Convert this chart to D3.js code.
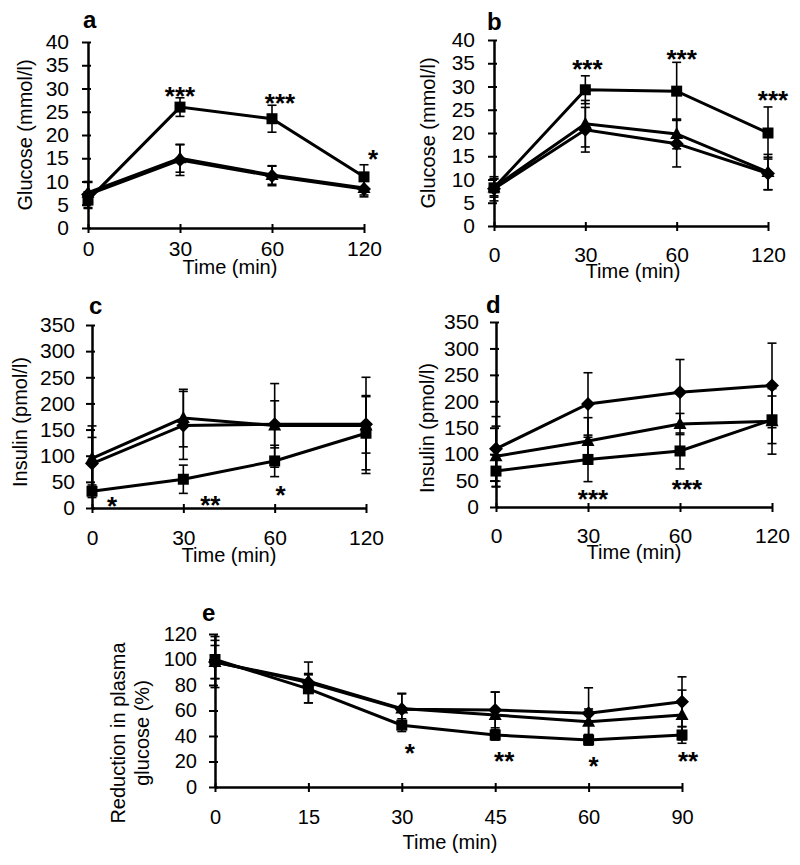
<!DOCTYPE html>
<html><head><meta charset="utf-8">
<script src="https://cdn.jsdelivr.net/npm/d3@7/dist/d3.min.js"></script>
<style>
html,body{margin:0;padding:0;background:#fff;}
svg{display:block;font-family:"Liberation Sans",Arial,Helvetica,sans-serif;}
</style>
</head><body>
<svg id="chart" width="800" height="865"></svg>
<script>
// ---------- DATA ----------
const timesOGTT = ["0","30","60","120"];
const timesITT  = ["0","15","30","45","60","90"];

const ticksGlucose = [0,5,10,15,20,25,30,35,40];
const ticksInsulin = [0,50,100,150,200,250,300,350];
const ticksReduction = [0,20,40,60,80,100,120];

// Panel a: glucose
const aDiamond    = [7.2, 14.6, 11.2, 8.4];
const aDiamondErr = [2.8, 3.3, 2.1, 1.7];
const aTriangle    = [7.6, 15.0, 11.4, 8.6];
const aTriangleErr = [2.2, 3.0, 2.0, 1.5];
const aSquare    = [6.0, 26.0, 23.5, 11.0];
const aSquareErr = [1.8, 2.0, 2.9, 2.6];
const aStars = [{t:"30", v:29.7, label:"***"}, {t:"60", v:28.2, label:"***"}, {t:"120", v:16.1, label:"*"}];

// Panel b: glucose
const bDiamond    = [8.0, 20.7, 17.7, 11.3];
const bDiamondErr = [2.6, 4.8, 5.0, 3.5];
const bTriangle    = [8.3, 22.0, 19.8, 11.6];
const bTriangleErr = [1.8, 5.0, 3.2, 3.8];
const bSquare    = [8.2, 29.3, 29.0, 20.0];
const bSquareErr = [2.0, 3.0, 6.2, 5.6];
const bStars = [{t:"30", v:35.1, label:"***"}, {t:"60", v:37.2, label:"***"}, {t:"120", v:28.4, label:"***"}];

// Panel c: insulin
const cDiamond    = [85, 158, 160, 160];
const cDiamondErr = [50, 65, 45, 55];
const cTriangle    = [95, 172, 158, 158];
const cTriangleErr = [62, 55, 80, 92];
const cSquare    = [32, 55, 90, 143];
const cSquareErr = [12, 27, 30, 70];
const cStars = [{t:"0", v:15.3, label:"*"}, {t:"30", v:17.2, label:"**"}, {t:"60", v:36.3, label:"*"}];

// Panel d: insulin
const dDiamond    = [110, 195, 217, 230];
const dDiamondErr = [61, 59, 62, 80];
const dTriangle    = [96, 125, 157, 162];
const dTriangleErr = [57, 44, 20, 62];
const dSquare    = [68, 90, 106, 165];
const dSquareErr = [30, 42, 34, 45];
const dStars = [{t:"30", v:26.5, label:"***"}, {t:"60", v:45.4, label:"***"}];

// Panel e: reduction in plasma glucose
const eDiamond    = [98, 82, 61, 60.4, 57.8, 66.9];
const eDiamondErr = [13, 16, 12, 14, 20, 19.5];
const eTriangle    = [98, 83, 61.5, 56.5, 51.2, 56.5];
const eTriangleErr = [20, 6, 12, 18, 10, 19.5];
const eSquare    = [100, 77, 48.5, 40.8, 36.9, 40.8];
const eSquareErr = [15, 11, 5, 4, 4, 6.5];
const eStars = [{t:"30", v:31.4, label:"*"}, {t:"45", v:25.1, label:"**"}, {t:"60", v:21.2, label:"*"}, {t:"90", v:25.1, label:"**"}];

// ---------- DRAWING ----------
const svg = d3.select("#chart");
const FONT = 21;

function markerPath(type) {
  if (type === "square") { const h = 5.5; return `M${-h},${-h}H${h}V${h}H${-h}Z`; }
  if (type === "diamond") { const h = 7; return `M0,${-h}L${h},0L0,${h}L${-h},0Z`; }
  const w = 6.5; return `M0,-7L${w},5L${-w},5Z`;
}

function panel(cfg) {
  const g = svg.append("g");
  const x = d3.scalePoint().domain(cfg.times).range([cfg.x0, cfg.x1]);
  const y = d3.scaleLinear().domain([0, cfg.ymax]).range([cfg.yb, cfg.yt]);

  const ya = g.append("g").attr("transform", `translate(${cfg.x0},0)`)
    .call(d3.axisLeft(y).tickValues(cfg.ticks).tickSizeOuter(0).tickSizeInner(6).tickPadding(cfg.ypad));
  ya.select(".domain").attr("stroke", "#000").attr("stroke-width", 2.5);
  ya.selectAll(".tick line").attr("x1", 3).attr("x2", -6).attr("stroke-width", 2);
  ya.selectAll(".tick text").attr("font-size", cfg.fs).attr("fill", "#000").style("font-family", "inherit");

  const xa = g.append("g").attr("transform", `translate(0,${cfg.yb})`)
    .call(d3.axisBottom(x).tickSizeOuter(0).tickSizeInner(5));
  xa.select(".domain").attr("stroke", "#000").attr("stroke-width", 2.5);
  xa.selectAll(".tick line").attr("y1", -4).attr("y2", 5).attr("stroke-width", 2);
  xa.selectAll(".tick text").attr("font-size", cfg.fs).attr("fill", "#000")
    .attr("y", cfg.xlabOff).attr("dy", "0.36em").style("font-family", "inherit");

  g.append("text").attr("x", cfg.xtX).attr("y", cfg.xtY).attr("dy", "0.36em")
    .attr("text-anchor", "middle").attr("font-size", 20).text("Time (min)");
  cfg.ytitle.forEach((t, i) => {
    g.append("text").attr("transform", `translate(${cfg.ytX[i]},${cfg.ytY}) rotate(-90)`)
      .attr("dy", "0.36em").attr("text-anchor", "middle").attr("font-size", 20).text(t);
  });

  g.append("text").attr("x", cfg.lx).attr("y", cfg.ly).attr("font-size", 24)
    .attr("font-weight", "bold").text(cfg.letter);

  const line = d3.line().x((d, i) => x(cfg.times[i])).y(d => y(d));

  cfg.series.forEach(s => {
    const eb = g.append("g").attr("stroke", "#000").attr("stroke-width", 1.6);
    s.vals.forEach((v, i) => {
      const cx = x(cfg.times[i]);
      const y1 = y(v + s.err[i]), y2 = y(Math.max(0, v - s.err[i]));
      eb.append("line").attr("x1", cx).attr("x2", cx).attr("y1", y1).attr("y2", y2);
      eb.append("line").attr("x1", cx - 4.5).attr("x2", cx + 4.5).attr("y1", y1).attr("y2", y1);
      eb.append("line").attr("x1", cx - 4.5).attr("x2", cx + 4.5).attr("y1", y2).attr("y2", y2);
    });
  });
  cfg.series.forEach(s => {
    g.append("path").datum(s.vals).attr("d", line)
      .attr("fill", "none").attr("stroke", "#000").attr("stroke-width", 3);
    g.selectAll(null).data(s.vals).enter().append("path")
      .attr("transform", (d, i) => `translate(${x(cfg.times[i])},${y(d)})`)
      .attr("d", markerPath(s.type)).attr("fill", "#000");
  });

  cfg.stars.forEach((st, i) => {
    g.append("text").attr("x", x(st.t) + cfg.starDx[i]).attr("y", y(st.v))
      .attr("dy", "0.58em").attr("text-anchor", "middle").attr("font-size", 26)
      .attr("font-weight", "bold").text(st.label);
  });
}

panel({letter:"a", lx:83, ly:28, times:timesOGTT, x0:88, x1:364, yb:228, yt:42, ymax:40, ticks:ticksGlucose,
  fs:FONT, ypad:13, xlabOff:20, xtX:230, xtY:267, ytitle:["Glucose (mmol/l)"], ytX:[25], ytY:135,
  series:[{type:"diamond", vals:aDiamond, err:aDiamondErr},{type:"triangle", vals:aTriangle, err:aTriangleErr},{type:"square", vals:aSquare, err:aSquareErr}],
  stars:aStars, starDx:[0, 8, 9]});

panel({letter:"b", lx:487, ly:30, times:timesOGTT, x0:494, x1:768, yb:226, yt:40, ymax:40, ticks:ticksGlucose,
  fs:FONT, ypad:13, xlabOff:28, xtX:633, xtY:271, ytitle:["Glucose (mmol/l)"], ytX:[428], ytY:133,
  series:[{type:"diamond", vals:bDiamond, err:bDiamondErr},{type:"triangle", vals:bTriangle, err:bTriangleErr},{type:"square", vals:bSquare, err:bSquareErr}],
  stars:bStars, starDx:[2, 5, 5]});

panel({letter:"c", lx:89, ly:314, times:timesOGTT, x0:92, x1:366, yb:508, yt:325, ymax:350, ticks:ticksInsulin,
  fs:FONT, ypad:11, xlabOff:29, xtX:229, xtY:555, ytitle:["Insulin (pmol/l)"], ytX:[20], ytY:422,
  series:[{type:"diamond", vals:cDiamond, err:cDiamondErr},{type:"triangle", vals:cTriangle, err:cTriangleErr},{type:"square", vals:cSquare, err:cSquareErr}],
  stars:cStars, starDx:[20, 27, 6]});

panel({letter:"d", lx:486, ly:313, times:timesOGTT, x0:496, x1:772, yb:507, yt:322, ymax:350, ticks:ticksInsulin,
  fs:FONT, ypad:11, xlabOff:28, xtX:634, xtY:552, ytitle:["Insulin (pmol/l)"], ytX:[427], ytY:428,
  series:[{type:"diamond", vals:dDiamond, err:dDiamondErr},{type:"triangle", vals:dTriangle, err:dTriangleErr},{type:"square", vals:dSquare, err:dSquareErr}],
  stars:dStars, starDx:[5, 7]});

panel({letter:"e", lx:202, ly:621, times:timesITT, x0:215, x1:682, yb:787, yt:634, ymax:120, ticks:ticksReduction,
  fs:20, ypad:12, xlabOff:30, xtX:450, xtY:842, ytitle:["Reduction in plasma", "glucose (%)"], ytX:[118,142], ytY:733,
  series:[{type:"diamond", vals:eDiamond, err:eDiamondErr},{type:"triangle", vals:eTriangle, err:eTriangleErr},{type:"square", vals:eSquare, err:eSquareErr}],
  stars:eStars, starDx:[8, 9, 5, 6]});
</script>
</body></html>
